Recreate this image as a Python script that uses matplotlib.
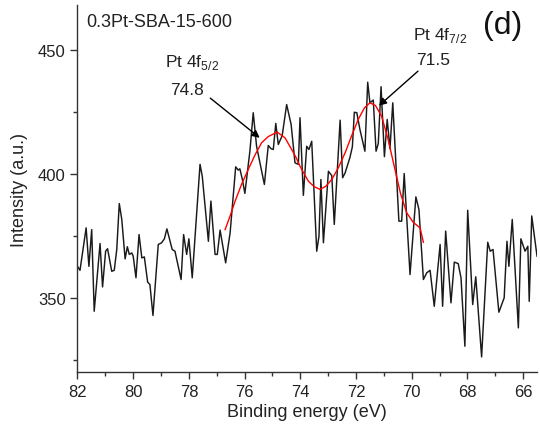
import numpy as np
import matplotlib
matplotlib.use('Agg')
import matplotlib.pyplot as plt

plt.rcParams['font.family'] = ['Liberation Sans', 'DejaVu Sans']
plt.rcParams['mathtext.fontset'] = 'custom'
plt.rcParams['mathtext.rm'] = 'Liberation Sans'

# measured spectrum (binding energy in eV, intensity in a.u.)
energy = [82.0, 81.91, 81.69, 81.59, 81.49, 81.40, 81.19, 81.10, 80.99, 80.92,
          80.77, 80.68, 80.59, 80.50, 80.41, 80.29, 80.21, 80.14, 80.05, 80.00,
          79.90, 79.79, 79.69, 79.60, 79.48, 79.40, 79.29, 79.10, 78.98, 78.88,
          78.79, 78.60, 78.50, 78.28, 78.19, 78.08, 78.00, 77.88, 77.60, 77.52,
          77.30, 77.21, 77.06, 76.98, 76.88, 76.68, 76.52, 76.32, 76.23, 76.17,
          76.08, 75.99, 75.81, 75.69, 75.57, 75.29, 75.15, 75.05, 74.97, 74.88,
          74.79, 74.65, 74.49, 74.33, 74.19, 74.07, 74.01, 73.89, 73.77, 73.69,
          73.59, 73.41, 73.33, 73.26, 73.17, 72.99, 72.87, 72.78, 72.57, 72.48,
          72.39, 72.22, 72.13, 72.06, 71.97, 71.86, 71.68, 71.58, 71.50, 71.38,
          71.28, 71.20, 71.10, 70.98, 70.88, 70.78, 70.68, 70.46, 70.36, 70.27,
          70.06, 69.85, 69.74, 69.58, 69.46, 69.34, 69.19, 68.98, 68.89, 68.78,
          68.59, 68.47, 68.33, 68.23, 68.09, 67.99, 67.81, 67.70, 67.49, 67.27,
          67.18, 67.08, 66.87, 66.68, 66.58, 66.51, 66.39, 66.17, 66.08, 65.93,
          65.83, 65.78, 65.69, 65.50]
intensity = [362.7, 361.1, 378.2, 362.7, 377.5, 344.6, 371.9, 354.4, 368.8, 369.8,
             360.7, 361.1, 369.5, 388.0, 381.6, 365.7, 370.6, 367.5, 368.1, 366.8,
             358.1, 375.5, 366.1, 366.5, 356.3, 355.4, 342.9, 371.5, 372.2, 373.8,
             377.8, 369.5, 368.8, 357.4, 375.5, 367.5, 373.8, 358.1, 403.8, 399.0,
             372.8, 389.0, 367.5, 367.5, 377.3, 364.1, 376.2, 402.8, 401.5, 402.0,
             397.7, 392.1, 409.1, 424.6, 411.1, 395.7, 411.4, 410.1, 409.8, 420.3,
             411.8, 415.4, 427.9, 419.9, 404.4, 403.8, 422.6, 391.3, 411.1, 409.8,
             413.1, 368.8, 374.8, 397.7, 372.2, 401.0, 399.3, 379.6, 421.6, 398.4,
             400.4, 406.5, 410.9, 424.8, 424.6, 417.9, 409.1, 436.9, 428.6, 429.7,
             409.1, 412.2, 435.1, 406.9, 421.9, 410.1, 428.6, 380.9, 380.9, 400.1,
             359.4, 390.7, 385.6, 357.4, 360.1, 361.1, 346.6, 371.5, 346.6, 376.9,
             348.0, 364.4, 363.8, 358.1, 330.5, 385.3, 347.3, 358.5, 326.2, 372.4,
             368.8, 369.5, 344.2, 350.0, 372.8, 362.7, 381.6, 337.9, 373.8, 368.8,
             370.8, 348.6, 383.0, 366.8]

# fitted envelope
fit_energy = [76.70, 76.52, 76.34, 76.10, 75.87, 75.63, 75.39, 75.15, 74.83, 74.55,
              74.31, 74.15, 74.01, 73.71, 73.50, 73.29, 73.08, 72.87, 72.63, 72.39,
              72.15, 71.92, 71.70, 71.50, 71.30, 71.08, 70.85, 70.60, 70.40, 70.18,
              69.95, 69.70, 69.58]
fit_intensity = [377.5, 383.0, 389.0, 396.0, 401.7, 407.5, 412.5, 415.0, 416.8, 414.5,
                 409.8, 406.5, 403.0, 397.0, 394.8, 393.7, 395.0, 397.7, 402.5, 408.5,
                 415.5, 421.9, 426.5, 428.6, 427.5, 423.2, 414.0, 401.7, 392.0, 384.3,
                 380.5, 378.2, 372.4]

fig = plt.figure(figsize=(5.4, 4.27), dpi=100)
ax = fig.add_axes([0.1435, 0.1258, 0.851, 0.860])

ax.plot(energy, intensity, color='#1a1a1a', lw=1.05)
ax.plot(fit_energy, fit_intensity, color='red', lw=1.0)

ax.set_xlim(82, 65.5)
ax.set_ylim(320, 468)
ax.set_xticks(np.arange(82, 65, -2))
ax.set_xticks(np.arange(81, 65, -2), minor=True)
ax.set_yticks([350, 400, 450])
ax.set_yticks([325, 375, 425], minor=True)

for side in ['top', 'right']:
    ax.spines[side].set_visible(False)
for side in ['left', 'bottom']:
    ax.spines[side].set_color('#333333')
    ax.spines[side].set_linewidth(1.0)

ax.tick_params(which='major', direction='out', length=5, width=1, labelsize=12, colors='#333333')
ax.tick_params(which='minor', direction='out', length=3, width=1, colors='#333333')
ax.tick_params(labelcolor='#222222')

ax.set_xlabel('Binding energy (eV)', fontsize=13, color='#222222', labelpad=3)
ax.set_ylabel('Intensity (a.u.)', fontsize=13, color='#222222', labelpad=7)

ax.text(81.69, 461.4, '0.3Pt-SBA-15-600', fontsize=13, ha='left', va='center', color='#222222')
ax.text(66.72, 460.0, '(d)', fontsize=23, ha='center', va='center', color='#111111')

ax.text(77.89, 445.3, r'Pt 4f$_\mathregular{5/2}$', fontsize=12.5, ha='center', va='center', color='#222222')
ax.text(78.07, 434.0, '74.8', fontsize=12.5, ha='center', va='center', color='#222222')
ax.text(68.98, 456.2, r'Pt 4f$_\mathregular{7/2}$', fontsize=12.5, ha='center', va='center', color='#222222')
ax.text(69.24, 446.1, '71.5', fontsize=12.5, ha='center', va='center', color='#222222')

ax.annotate('', xy=(75.38, 413.8), xytext=(77.31, 431.2),
            arrowprops=dict(arrowstyle='-|>', color='black', lw=1, mutation_scale=11))
ax.annotate('', xy=(71.25, 426.7), xytext=(69.70, 442.1),
            arrowprops=dict(arrowstyle='-|>', color='black', lw=1, mutation_scale=11))

plt.savefig('out.png', dpi=100)
